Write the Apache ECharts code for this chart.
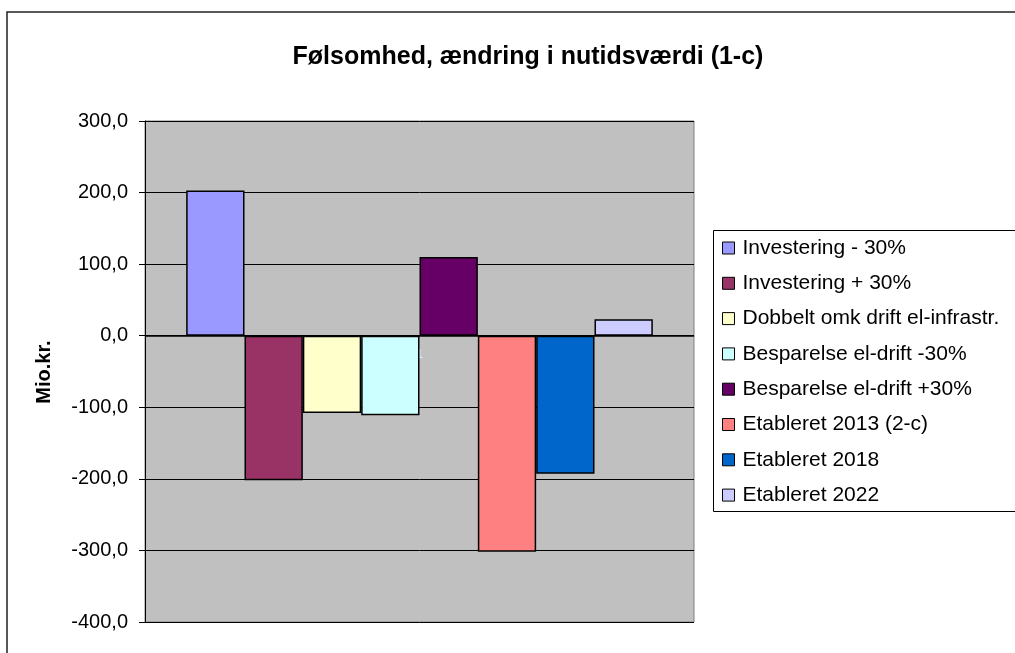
<!DOCTYPE html>
<html>
<head>
<meta charset="utf-8">
<script src="https://cdn.jsdelivr.net/npm/echarts@6/dist/echarts.min.js"></script>
<style>
  html, body { margin: 0; padding: 0; background: #fff; }
  #chart { width: 1015px; height: 653px; }
</style>
</head>
<body>
<div id="chart"></div>
<script>
// data
const categories = ['1'];
const seriesNames = [
  'Investering - 30%',
  'Investering + 30%',
  'Dobbelt omk drift el-infrastr.',
  'Besparelse el-drift -30%',
  'Besparelse el-drift +30%',
  'Etableret 2013 (2-c)',
  'Etableret 2018',
  'Etableret 2022'
];
const seriesValues = [203, -202, -108, -111, 110, -302, -193, 23];
const seriesColors = ['#9999FF', '#993366', '#FFFFCC', '#CCFFFF', '#660066', '#FF8080', '#0066CC', '#CCCCFF'];

const FONT = 'Liberation Sans, Arial, sans-serif';

const myChart = echarts.init(document.getElementById('chart'));

const series = seriesNames.map((name, i) => ({
  name: name,
  type: 'bar',
  barGap: 0,
  barCategoryGap: '15%',
  data: [seriesValues[i]],
  itemStyle: {
    color: seriesColors[i],
    borderColor: '#000',
    borderWidth: 1.5
  }
}));

// heavier zero line, as in the original
series[0].markLine = {
  silent: true,
  symbol: 'none',
  label: { show: false },
  lineStyle: { color: '#000', width: 1.6, type: 'solid' },
  data: [{ yAxis: 0 }]
};

const option = {
  animation: false,
  backgroundColor: '#fff',
  title: {
    text: 'Følsomhed, ændring i nutidsværdi (1-c)',
    left: 523,
    top: 40,
    textAlign: 'center',
    textStyle: {
      fontFamily: FONT,
      fontSize: 25,
      fontWeight: 'bold',
      color: '#000'
    }
  },
  grid: {
    left: 145,
    top: 121,
    width: 549,
    height: 501,
    show: true,
    backgroundColor: '#c0c0c0',
    borderColor: '#808080',
    borderWidth: 1
  },
  legend: {
    orient: 'vertical',
    left: 722,
    top: 237,
    padding: 0,
    itemWidth: 12,
    itemHeight: 12,
    itemGap: 13.3,
    icon: 'rect',
    selectedMode: false,
    itemStyle: { borderColor: '#000', borderWidth: 1 },
    textStyle: {
      fontFamily: FONT,
      fontSize: 21,
      lineHeight: 22,
      color: '#000',
      padding: [0, 0, 0, 3]
    },
    data: seriesNames
  },
  xAxis: {
    type: 'category',
    data: categories,
    axisLine: { show: false },
    axisTick: { show: false },
    axisLabel: {
      color: '#ccffff',
      fontFamily: FONT,
      fontSize: 12,
      // axis sits at the bottom of the grid; pull the label up under the zero line
      margin: -273
    }
  },
  yAxis: {
    type: 'value',
    min: -400,
    max: 300,
    interval: 100,
    axisLine: { show: true, lineStyle: { color: '#000', width: 1 } },
    axisTick: { show: true, inside: false, length: 6, lineStyle: { color: '#000' } },
    axisLabel: {
      fontFamily: FONT,
      fontSize: 20,
      color: '#000',
      margin: 17,
      formatter: v => v.toFixed(1).replace('.', ',')
    },
    splitLine: { show: true, lineStyle: { color: '#000', width: 1 } }
  },
  graphic: [
    {
      // outer chart frame, cut off at the right and bottom
      type: 'rect',
      shape: { x: 7, y: 12, width: 1100, height: 700 },
      style: { fill: null, stroke: '#222', lineWidth: 1.5 },
      silent: true,
      z: 100
    },
    {
      // legend frame
      type: 'rect',
      shape: { x: 713.5, y: 230.5, width: 400, height: 281 },
      style: { fill: null, stroke: '#000', lineWidth: 1 },
      silent: true,
      z: 100
    },
    {
      // y axis title
      type: 'text',
      x: 44,
      y: 372,
      rotation: Math.PI / 2,
      style: {
        text: 'Mio.kr.',
        fontFamily: FONT,
        fontSize: 20,
        fontWeight: 'bold',
        fill: '#000',
        align: 'center',
        verticalAlign: 'middle'
      },
      silent: true
    }
  ],
  series: series
};

myChart.setOption(option);
window.addEventListener('resize', () => {
  myChart.resize();
});
</script>
</body>
</html>
